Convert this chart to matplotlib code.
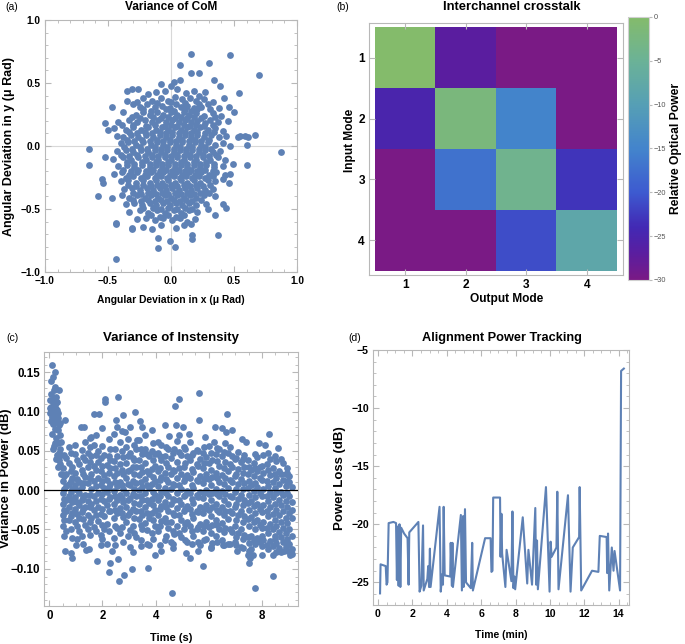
import numpy as np
import matplotlib
matplotlib.use("Agg")
import matplotlib.pyplot as plt
from matplotlib.colors import LinearSegmentedColormap

plt.rcParams['font.family'] = ['Liberation Sans', 'DejaVu Sans']

blue = '#5e81b5'
frame_col = '#b8b8b8'

# (a) centre of mass scatter, (x, y) in micro rad
com_points = [
    # outer points
    (0.16, 0.73), (0.47, 0.72), (0.70, 0.56), (0.30, 0.66), (0.07, 0.64),
    (0.22, 0.58), (0.16, 0.58), (0.02, 0.51), (0.07, 0.52), (-0.08, 0.49),
    (0.00, 0.48), (0.34, 0.52), (0.39, 0.48), (0.54, 0.42), (0.50, 0.27),
    (0.46, 0.31), (-0.35, 0.44), (-0.31, 0.45), (-0.26, 0.45), (-0.47, 0.31),
    (-0.52, 0.18), (-0.50, 0.13), (-0.43, 0.08), (-0.65, -0.02), (-0.65, -0.15),
    (-0.52, -0.09), (-0.58, -0.40), (-0.55, -0.26), (-0.54, -0.29), (-0.44, -0.90),
    (-0.44, -0.61), (-0.44, -0.62), (-0.47, -0.41), (-0.31, -0.66), (-0.10, -0.73),
    (-0.10, -0.81), (0.03, -0.80), (-0.01, -0.75), (0.17, -0.71), (0.17, -0.74),
    (0.37, -0.71), (0.35, -0.55), (0.44, -0.49), (0.41, -0.46), (0.87, -0.05),
    (0.67, 0.09), (0.59, 0.08), (0.61, 0.07), (0.53, 0.07), (0.55, 0.08),
    (0.60, 0.01), (0.60, -0.15), (0.49, -0.14), (0.47, -0.22), (0.46, -0.29),
    # core
    (-0.18, 0.41), (-0.12, 0.43), (-0.05, 0.44), (0.05, 0.45), (0.12, 0.42),
    (0.18, 0.44), (0.22, 0.40), (0.27, 0.43),
    (-0.35, 0.36), (-0.22, 0.38), (-0.15, 0.36), (-0.08, 0.38), (-0.02, 0.36),
    (0.03, 0.39), (0.09, 0.37), (0.15, 0.38), (0.20, 0.36), (0.26, 0.37),
    (0.33, 0.35), (0.42, 0.38),
    (-0.30, 0.33), (-0.25, 0.31), (-0.19, 0.33), (-0.13, 0.31), (-0.07, 0.32),
    (-0.01, 0.30), (0.04, 0.33), (0.08, 0.31), (0.13, 0.32), (0.18, 0.30),
    (0.24, 0.31), (0.29, 0.33), (0.38, 0.30),
    (-0.38, 0.27), (-0.28, 0.25), (-0.22, 0.27), (-0.17, 0.25), (-0.11, 0.27),
    (-0.06, 0.25), (0.00, 0.27), (0.05, 0.25), (0.10, 0.27), (0.14, 0.25),
    (0.20, 0.26), (0.26, 0.24), (0.33, 0.26), (0.40, 0.24),
    (-0.42, 0.19), (-0.33, 0.21), (-0.27, 0.19), (-0.21, 0.21), (-0.15, 0.19),
    (-0.10, 0.21), (-0.04, 0.19), (0.01, 0.21), (0.06, 0.19), (0.11, 0.21),
    (0.16, 0.19), (0.21, 0.20), (0.27, 0.18), (0.31, 0.21), (0.37, 0.19),
    (0.45, 0.20),
    (-0.45, 0.14), (-0.36, 0.13), (-0.30, 0.15), (-0.24, 0.13), (-0.18, 0.15),
    (-0.12, 0.13), (-0.07, 0.15), (-0.02, 0.13), (0.03, 0.15), (0.08, 0.13),
    (0.13, 0.15), (0.18, 0.13), (0.23, 0.15), (0.29, 0.13), (0.35, 0.14),
    (0.41, 0.12),
    (-0.38, 0.07), (-0.32, 0.09), (-0.26, 0.07), (-0.20, 0.09), (-0.14, 0.07),
    (-0.09, 0.09), (-0.04, 0.07), (0.01, 0.09), (0.06, 0.07), (0.11, 0.09),
    (0.16, 0.07), (0.21, 0.09), (0.26, 0.07), (0.32, 0.09), (0.38, 0.07),
    (0.44, 0.08),
    (-0.40, 0.02), (-0.34, 0.03), (-0.28, 0.01), (-0.22, 0.03), (-0.16, 0.01),
    (-0.11, 0.03), (-0.06, 0.01), (-0.01, 0.03), (0.04, 0.01), (0.09, 0.03),
    (0.14, 0.01), (0.19, 0.03), (0.24, 0.01), (0.29, 0.03), (0.35, 0.01),
    (0.41, 0.02), (0.47, 0.00),
    (-0.43, -0.04), (-0.36, -0.03), (-0.30, -0.05), (-0.24, -0.03), (-0.18, -0.05),
    (-0.13, -0.03), (-0.08, -0.05), (-0.03, -0.03), (0.02, -0.05), (0.07, -0.03),
    (0.12, -0.05), (0.17, -0.03), (0.22, -0.05), (0.27, -0.03), (0.33, -0.05),
    (0.39, -0.04),
    (-0.46, -0.10), (-0.38, -0.09), (-0.32, -0.11), (-0.26, -0.09), (-0.20, -0.11),
    (-0.15, -0.09), (-0.10, -0.11), (-0.05, -0.09), (0.00, -0.11), (0.05, -0.09),
    (0.10, -0.11), (0.15, -0.09), (0.20, -0.11), (0.25, -0.09), (0.31, -0.11),
    (0.37, -0.09), (0.43, -0.11),
    (-0.42, -0.16), (-0.35, -0.15), (-0.29, -0.17), (-0.23, -0.15), (-0.17, -0.17),
    (-0.12, -0.15), (-0.07, -0.17), (-0.02, -0.15), (0.03, -0.17), (0.08, -0.15),
    (0.13, -0.17), (0.18, -0.15), (0.23, -0.17), (0.28, -0.15), (0.34, -0.17),
    (0.41, -0.16),
    (-0.45, -0.22), (-0.39, -0.21), (-0.33, -0.23), (-0.27, -0.21), (-0.21, -0.23),
    (-0.16, -0.21), (-0.11, -0.23), (-0.06, -0.21), (-0.01, -0.23), (0.04, -0.21),
    (0.09, -0.23), (0.14, -0.21), (0.19, -0.23), (0.24, -0.21), (0.30, -0.23),
    (0.36, -0.21), (0.43, -0.23),
    (-0.40, -0.28), (-0.34, -0.27), (-0.28, -0.29), (-0.22, -0.27), (-0.17, -0.29),
    (-0.12, -0.27), (-0.07, -0.29), (-0.02, -0.27), (0.03, -0.29), (0.08, -0.27),
    (0.13, -0.29), (0.18, -0.27), (0.23, -0.29), (0.29, -0.27), (0.35, -0.28),
    (0.41, -0.26),
    (-0.37, -0.34), (-0.31, -0.33), (-0.25, -0.35), (-0.19, -0.33), (-0.14, -0.35),
    (-0.09, -0.33), (-0.04, -0.35), (0.01, -0.33), (0.06, -0.35), (0.11, -0.33),
    (0.16, -0.35), (0.21, -0.33), (0.27, -0.35), (0.33, -0.34),
    (-0.39, -0.39), (-0.33, -0.41), (-0.27, -0.39), (-0.21, -0.41), (-0.16, -0.39),
    (-0.10, -0.41), (-0.05, -0.39), (0.00, -0.41), (0.05, -0.39), (0.10, -0.41),
    (0.15, -0.39), (0.20, -0.41), (0.26, -0.39), (0.35, -0.40),
    (-0.36, -0.46), (-0.29, -0.45), (-0.23, -0.47), (-0.17, -0.45), (-0.12, -0.47),
    (-0.06, -0.45), (-0.01, -0.47), (0.04, -0.45), (0.09, -0.47), (0.14, -0.45),
    (0.20, -0.47), (0.28, -0.46),
    (-0.33, -0.52), (-0.25, -0.51), (-0.18, -0.53), (-0.11, -0.51), (-0.05, -0.53),
    (0.02, -0.51), (0.08, -0.53), (0.14, -0.51), (0.21, -0.52), (0.29, -0.50),
    (-0.27, -0.58), (-0.20, -0.57), (-0.13, -0.59), (-0.06, -0.57), (0.01, -0.59),
    (0.07, -0.57), (0.13, -0.60), (0.19, -0.58),
    (-0.31, -0.65), (-0.22, -0.64), (-0.15, -0.66), (-0.08, -0.63), (0.04, -0.65),
    (0.10, -0.63), (0.16, -0.62),
    # dense middle
    (-0.27, 0.35), (-0.11, 0.34), (0.00, 0.35), (0.11, 0.34), (0.22, 0.33),
    (-0.22, 0.29), (-0.16, 0.28), (-0.04, 0.29), (0.02, 0.28), (0.11, 0.29),
    (0.16, 0.28), (0.21, 0.29), (0.31, 0.29),
    (-0.31, 0.23), (-0.25, 0.22), (-0.14, 0.23), (-0.08, 0.22), (-0.02, 0.23),
    (0.03, 0.22), (0.08, 0.23), (0.13, 0.22), (0.18, 0.23), (0.24, 0.22), (0.35, 0.23),
    (-0.39, 0.17), (-0.30, 0.17), (-0.20, 0.16), (-0.13, 0.17), (-0.05, 0.16),
    (0.00, 0.17), (0.05, 0.16), (0.10, 0.17), (0.15, 0.16), (0.20, 0.17),
    (0.26, 0.16), (0.33, 0.17),
    (-0.33, 0.11), (-0.27, 0.10), (-0.21, 0.11), (-0.15, 0.10), (-0.09, 0.11),
    (-0.04, 0.10), (0.01, 0.11), (0.06, 0.10), (0.11, 0.11), (0.16, 0.10),
    (0.21, 0.11), (0.27, 0.10), (0.34, 0.11),
    (-0.35, 0.05), (-0.29, 0.04), (-0.23, 0.05), (-0.17, 0.04), (-0.11, 0.05),
    (-0.06, 0.04), (-0.01, 0.05), (0.04, 0.04), (0.09, 0.05), (0.14, 0.04),
    (0.19, 0.05), (0.24, 0.04), (0.30, 0.05),
    (-0.37, -0.01), (-0.31, -0.02), (-0.25, -0.01), (-0.19, -0.02), (-0.13, -0.01),
    (-0.08, -0.02), (-0.03, -0.01), (0.02, -0.02), (0.07, -0.01), (0.12, -0.02),
    (0.17, -0.01), (0.22, -0.02), (0.27, -0.01), (0.32, -0.02),
    (-0.40, -0.07), (-0.33, -0.08), (-0.27, -0.07), (-0.21, -0.08), (-0.15, -0.07),
    (-0.10, -0.08), (-0.05, -0.07), (0.00, -0.08), (0.05, -0.07), (0.10, -0.08),
    (0.15, -0.07), (0.20, -0.08), (0.25, -0.07), (0.30, -0.08), (0.36, -0.07),
    (-0.35, -0.13), (-0.29, -0.14), (-0.23, -0.13), (-0.17, -0.14), (-0.12, -0.13),
    (-0.07, -0.14), (-0.02, -0.13), (0.03, -0.14), (0.08, -0.13), (0.13, -0.14),
    (0.18, -0.13), (0.23, -0.14), (0.28, -0.13), (0.34, -0.14),
    (-0.38, -0.19), (-0.32, -0.20), (-0.26, -0.19), (-0.20, -0.20), (-0.14, -0.19),
    (-0.09, -0.20), (-0.04, -0.19), (0.01, -0.20), (0.06, -0.19), (0.11, -0.20),
    (0.16, -0.19), (0.21, -0.20), (0.27, -0.19), (0.33, -0.20),
    (-0.36, -0.25), (-0.30, -0.24), (-0.24, -0.25), (-0.19, -0.24), (-0.13, -0.25),
    (-0.08, -0.24), (-0.03, -0.25), (0.02, -0.24), (0.07, -0.25), (0.12, -0.24),
    (0.17, -0.25), (0.22, -0.24), (0.27, -0.25), (0.33, -0.24),
    (-0.34, -0.31), (-0.28, -0.32), (-0.22, -0.31), (-0.16, -0.32), (-0.11, -0.31),
    (-0.05, -0.32), (0.00, -0.31), (0.05, -0.32), (0.10, -0.31), (0.15, -0.32),
    (0.20, -0.31), (0.25, -0.32), (0.31, -0.31),
    (-0.30, -0.37), (-0.24, -0.38), (-0.18, -0.37), (-0.12, -0.38), (-0.07, -0.37),
    (-0.02, -0.38), (0.03, -0.37), (0.08, -0.38), (0.13, -0.37), (0.18, -0.38),
    (0.23, -0.37), (0.30, -0.37),
    (-0.30, -0.43), (-0.24, -0.44), (-0.18, -0.43), (-0.13, -0.44), (-0.08, -0.43),
    (-0.03, -0.44), (0.02, -0.43), (0.07, -0.44), (0.12, -0.43), (0.17, -0.44),
    (0.24, -0.43),
    (-0.22, -0.49), (-0.14, -0.49), (-0.08, -0.50), (-0.02, -0.49), (0.05, -0.50),
    (0.11, -0.49), (0.17, -0.50),
    (-0.16, -0.55), (-0.09, -0.56), (-0.02, -0.55), (0.04, -0.56), (0.10, -0.55),
]

# (b) crosstalk matrix, rows = input mode, cols = output mode (dB)
modes = [1, 2, 3, 4]
crosstalk = [
    [0.0, -27.0, -30.0, -30.0],
    [-25.0, -2.0, -15.0, -30.0],
    [-30.0, -17.0, -4.0, -23.0],
    [-30.0, -30.0, -21.0, -8.0],
]

# (c) intensity variance: start-up cluster and outliers as (t, dB)
int_points = [
    (0.02, 0.115), (0.04, 0.098), (0.05, 0.139), (0.06, 0.088), (0.08, 0.106),
    (0.09, 0.072), (0.10, 0.093), (0.11, 0.159), (0.12, 0.112), (0.13, 0.084),
    (0.15, 0.144), (0.15, 0.101), (0.17, 0.118), (0.18, 0.090), (0.19, 0.056),
    (0.20, 0.108), (0.21, 0.078), (0.22, 0.131), (0.23, 0.150), (0.24, 0.096),
    (0.25, 0.104), (0.26, 0.066), (0.27, 0.119), (0.28, 0.087), (0.29, 0.045),
    (0.30, 0.102), (0.31, 0.030), (0.32, 0.092), (0.33, 0.060), (0.34, 0.077),
    (0.35, 0.128), (0.36, 0.048), (0.37, 0.083), (0.38, 0.038), (0.40, 0.070),
    (0.41, 0.052), (0.42, 0.086), (0.43, 0.020), (0.44, 0.062), (0.12, 0.052),
    (0.07, 0.122), (0.03, 0.105), (0.16, 0.098), (0.28, 0.112), (0.33, 0.098),
    (0.21, 0.060), (0.18, 0.128), (0.39, 0.033), (0.25, 0.040), (0.45, 0.045),
    (0.60, 0.090), (1.20, 0.080), (1.68, 0.097), (1.86, 0.097), (2.10, 0.116),
    (2.10, 0.112), (2.57, 0.119), (2.76, 0.096), (3.23, 0.099), (2.50, 0.090),
    (2.53, 0.081), (3.41, 0.088), (3.47, 0.081), (4.73, 0.107), (4.88, 0.116),
    (4.75, 0.083), (5.62, 0.124), (5.62, 0.089), (6.23, 0.080), (6.49, 0.079),
    (6.70, 0.097), (6.86, 0.077), (8.28, 0.072), (5.02, 0.080), (4.35, 0.083),
    (3.85, 0.077), (3.04, 0.080),
    (4.60, -0.131), (7.74, -0.125), (2.62, -0.116), (2.81, -0.108), (2.26, -0.104),
    (3.13, -0.100), (8.42, -0.109), (3.72, -0.099), (5.77, -0.096), (7.50, -0.093),
    (7.55, -0.087), (7.49, -0.082), (1.81, -0.090), (2.28, -0.093), (0.60, -0.077),
    (0.83, -0.080), (0.84, -0.087), (1.38, -0.076), (3.98, -0.083), (5.29, -0.086),
    (3.15, -0.079), (2.60, -0.088), (9.14, -0.081), (8.99, -0.078), (8.43, -0.082),
    (0.95, 0.058), (1.30, 0.081), (1.55, 0.066), (2.00, 0.079), (2.45, 0.071),
    (2.85, 0.074), (3.30, 0.064), (3.60, 0.070), (4.10, 0.061), (4.50, 0.069),
    (5.25, 0.072), (5.85, 0.068), (6.20, 0.062), (6.65, 0.074), (7.25, 0.065),
    (7.42, 0.062), (7.90, 0.060), (8.10, 0.057), (8.60, 0.054), (8.95, 0.022),
    (1.00, -0.070), (1.50, -0.075), (1.95, -0.070), (2.35, -0.078), (3.05, -0.072),
    (3.45, -0.071), (4.20, -0.077), (4.65, -0.074), (5.15, -0.080), (5.60, -0.077),
    (6.10, -0.074), (6.55, -0.070), (7.05, -0.078), (7.65, -0.082), (8.00, -0.083),
    (8.55, -0.079), (8.85, -0.077), (9.05, -0.083),
]

# (c) main band, one time column with its samples
int_columns = [
    (0.50, [0.012, -0.004, -0.018, -0.031, 0.028, -0.045]),
    (0.62, [0.005, -0.012, -0.026, 0.021, 0.041, -0.052]),
    (0.74, [0.008, -0.007, -0.022, -0.038, 0.035, 0.055]),
    (0.86, [0.016, 0.002, -0.015, -0.029, -0.061, 0.030]),
    (0.98, [0.022, 0.007, -0.009, -0.024, -0.041, 0.046]),
    (1.10, [0.033, 0.011, -0.003, -0.019, -0.035, -0.052]),
    (1.22, [0.051, 0.026, 0.004, -0.012, -0.028, -0.058]),
    (1.34, [0.038, 0.017, -0.006, -0.021, -0.044, 0.062]),
    (1.46, [0.029, 0.009, -0.014, -0.031, -0.049, 0.047]),
    (1.58, [0.044, 0.021, 0.001, -0.017, -0.036, 0.068]),
    (1.70, [0.057, 0.031, 0.012, -0.008, -0.025, -0.047]),
    (1.82, [0.036, 0.015, -0.004, -0.022, -0.039, 0.050]),
    (1.94, [0.041, 0.024, 0.006, -0.011, -0.030, -0.057]),
    (2.06, [0.045, 0.019, 0.003, -0.014, -0.033, -0.050]),
    (2.18, [0.032, 0.013, -0.002, -0.019, -0.043, -0.068]),
    (2.30, [0.052, 0.028, 0.008, -0.009, -0.026, 0.039]),
    (2.42, [0.037, 0.018, -0.001, -0.017, -0.036, -0.061]),
    (2.54, [0.044, 0.022, 0.005, -0.012, -0.029, -0.048]),
    (2.66, [0.061, 0.033, 0.011, -0.006, -0.023, -0.054]),
    (2.78, [0.042, 0.020, 0.002, -0.015, -0.034, -0.066]),
    (2.90, [0.035, 0.016, -0.003, -0.021, -0.040, 0.055]),
    (3.02, [0.048, 0.026, 0.007, -0.010, -0.028, -0.051]),
    (3.14, [0.030, 0.012, -0.005, -0.024, -0.045, 0.041]),
    (3.26, [0.053, 0.029, 0.009, -0.008, -0.027, -0.060]),
    (3.38, [0.039, 0.019, 0.000, -0.018, -0.037, 0.064]),
    (3.50, [0.046, 0.023, 0.004, -0.013, -0.031, -0.049]),
    (3.62, [0.034, 0.014, -0.004, -0.022, -0.042, 0.052]),
    (3.74, [0.043, 0.021, 0.003, -0.016, -0.035, -0.070]),
    (3.86, [0.050, 0.027, 0.008, -0.011, -0.029, -0.055]),
    (3.98, [0.031, 0.012, -0.006, -0.025, -0.046, 0.046]),
    (4.10, [0.047, 0.024, 0.005, -0.012, -0.032, -0.052]),
    (4.22, [0.038, 0.017, -0.002, -0.020, -0.039, 0.058]),
    (4.34, [0.044, 0.022, 0.003, -0.015, -0.036, -0.063]),
    (4.46, [0.029, 0.011, -0.007, -0.026, -0.048, 0.052]),
    (4.58, [0.041, 0.020, 0.001, -0.018, -0.040, -0.066]),
    (4.70, [0.052, 0.025, 0.006, -0.013, -0.031, -0.056]),
    (4.82, [0.036, 0.015, -0.004, -0.023, -0.045, 0.063]),
    (4.94, [0.045, 0.021, 0.002, -0.017, -0.038, -0.059]),
    (5.06, [0.030, 0.012, -0.008, -0.027, -0.049, 0.055]),
    (5.18, [0.043, 0.019, -0.001, -0.020, -0.041, -0.066]),
    (5.30, [0.038, 0.016, -0.003, -0.024, -0.046, 0.062]),
    (5.42, [0.047, 0.023, 0.003, -0.016, -0.035, -0.058]),
    (5.54, [0.033, 0.013, -0.006, -0.026, -0.050, 0.051]),
    (5.66, [0.040, 0.018, -0.002, -0.021, -0.043, -0.070]),
    (5.78, [0.028, 0.009, -0.010, -0.029, -0.052, 0.047]),
    (5.90, [0.042, 0.020, 0.000, -0.019, -0.040, -0.062]),
    (6.02, [0.035, 0.014, -0.005, -0.025, -0.047, 0.056]),
    (6.14, [0.039, 0.017, -0.003, -0.022, -0.044, -0.067]),
    (6.26, [0.046, 0.022, 0.001, -0.018, -0.038, -0.058]),
    (6.38, [0.031, 0.011, -0.008, -0.028, -0.050, 0.052]),
    (6.50, [0.043, 0.019, -0.001, -0.021, -0.042, -0.064]),
    (6.62, [0.036, 0.015, -0.005, -0.026, -0.048, 0.060]),
    (6.74, [0.048, 0.024, 0.003, -0.017, -0.037, -0.069]),
    (6.86, [0.030, 0.010, -0.009, -0.029, -0.053, 0.044]),
    (6.98, [0.040, 0.018, -0.002, -0.022, -0.045, -0.066]),
    (7.10, [0.027, 0.008, -0.011, -0.031, -0.055, 0.049]),
    (7.22, [0.036, 0.014, -0.006, -0.027, -0.050, -0.072]),
    (7.34, [0.029, 0.009, -0.012, -0.033, -0.057, 0.045]),
    (7.46, [0.021, 0.003, -0.016, -0.037, -0.060, 0.038]),
    (7.58, [0.026, 0.006, -0.014, -0.034, -0.058, -0.075]),
    (7.70, [0.018, -0.001, -0.020, -0.040, -0.063, 0.035]),
    (7.82, [0.024, 0.004, -0.017, -0.038, -0.061, 0.042]),
    (7.94, [0.015, -0.004, -0.024, -0.044, -0.066, 0.030]),
    (8.06, [0.022, 0.002, -0.019, -0.040, -0.064, 0.045]),
    (8.18, [0.012, -0.007, -0.027, -0.048, -0.070, 0.033]),
    (8.30, [0.019, -0.002, -0.022, -0.043, -0.065, 0.040]),
    (8.42, [0.010, -0.009, -0.030, -0.050, -0.071, 0.028]),
    (8.54, [0.016, -0.004, -0.025, -0.046, -0.067, 0.037]),
    (8.66, [0.008, -0.012, -0.032, -0.053, -0.074, 0.025]),
    (8.78, [0.013, -0.006, -0.027, -0.048, -0.066, 0.034]),
    (8.90, [0.005, -0.014, -0.035, -0.055, -0.072, 0.020]),
    (9.02, [0.011, -0.008, -0.029, -0.050, -0.069, 0.018]),
    (9.14, [0.004, -0.015, -0.036, -0.058, -0.075, -0.025]),
    (0.56, [0.018, 0.001, -0.011, -0.025, -0.038, 0.045, -0.058]),
    (0.80, [0.025, 0.012, -0.002, -0.013, -0.033, 0.048, -0.050]),
    (1.04, [0.014, 0.000, -0.015, -0.030, -0.046, 0.039, -0.062]),
    (1.28, [0.021, 0.009, -0.009, -0.024, -0.037, 0.042, -0.069]),
    (1.52, [0.036, 0.016, -0.006, -0.022, -0.041, 0.055, -0.057]),
    (1.76, [0.026, 0.005, -0.014, -0.031, -0.052, 0.045, 0.070]),
    (2.00, [0.031, 0.012, -0.005, -0.024, -0.044, 0.056, -0.062]),
    (2.24, [0.022, 0.004, -0.011, -0.027, -0.052, 0.043, 0.065]),
    (2.48, [0.028, 0.010, -0.008, -0.025, -0.045, 0.052, -0.070]),
    (2.72, [0.026, 0.006, -0.010, -0.029, -0.047, 0.050, 0.075]),
    (2.96, [0.024, 0.008, -0.013, -0.031, -0.058, 0.044, 0.065]),
    (3.20, [0.038, 0.020, 0.002, -0.016, -0.036, -0.054, 0.057]),
    (3.44, [0.030, 0.011, -0.008, -0.026, -0.044, 0.052, -0.063]),
    (3.68, [0.024, 0.006, -0.012, -0.029, -0.051, 0.046, -0.068]),
    (3.92, [0.039, 0.017, -0.002, -0.019, -0.038, 0.060, -0.062]),
    (4.16, [0.028, 0.013, -0.007, -0.024, -0.045, 0.044, -0.070]),
    (4.40, [0.035, 0.014, -0.004, -0.022, -0.041, 0.055, -0.058]),
    (4.64, [0.026, 0.008, -0.011, -0.029, -0.052, 0.047, -0.069]),
    (4.88, [0.028, 0.006, -0.013, -0.031, -0.054, 0.049, 0.070]),
    (5.12, [0.034, 0.015, -0.006, -0.024, -0.043, 0.053, -0.064]),
    (5.36, [0.027, 0.007, -0.011, -0.030, -0.052, 0.045, -0.068]),
    (5.60, [0.031, 0.012, -0.009, -0.028, -0.047, 0.050, -0.066]),
    (5.84, [0.034, 0.014, -0.004, -0.024, -0.045, 0.055, -0.064]),
    (6.08, [0.026, 0.006, -0.013, -0.033, -0.055, 0.047, -0.072]),
    (6.32, [0.037, 0.016, -0.005, -0.025, -0.044, 0.054, -0.066]),
    (6.56, [0.028, 0.008, -0.012, -0.031, -0.053, 0.049, -0.070]),
    (6.80, [0.033, 0.013, -0.008, -0.027, -0.049, 0.055, -0.068]),
    (7.04, [0.020, 0.002, -0.018, -0.038, -0.060, 0.041, -0.070]),
    (7.28, [0.022, 0.002, -0.019, -0.040, -0.062, 0.040, -0.074]),
    (7.52, [0.012, -0.006, -0.025, -0.045, -0.067, 0.030, -0.078]),
    (7.76, [0.009, -0.009, -0.029, -0.049, -0.068, 0.028, 0.046]),
    (8.00, [0.013, -0.007, -0.028, -0.048, -0.058, 0.031, -0.071]),
    (8.24, [0.005, -0.014, -0.033, -0.054, -0.075, 0.026, 0.047]),
    (8.48, [0.003, -0.017, -0.038, -0.058, -0.062, 0.021, 0.043]),
    (8.72, [-0.002, -0.019, -0.040, -0.060, -0.079, 0.020, 0.040]),
    (8.96, [-0.004, -0.022, -0.042, -0.062, -0.066, 0.012, 0.028]),
]

# (d) alignment power tracking
track_t = [0.12, 0.15, 0.45, 0.50, 0.55, 0.62, 0.90, 1.05, 1.10, 1.14, 1.20, 1.25,
           1.30, 1.35, 1.52, 1.72, 1.78, 1.82, 2.35, 2.42, 2.52, 2.62, 2.66, 2.87,
           2.92, 2.97, 3.02, 3.06, 3.58, 3.65, 3.74, 3.78, 3.82, 3.88, 4.20, 4.23,
           4.30, 4.33, 4.36, 4.82, 4.88, 4.95, 4.98, 5.06, 5.12, 5.40, 5.48, 5.52,
           6.23, 6.55, 6.60, 6.66, 6.70, 7.10, 7.13, 7.18, 7.22, 7.41, 7.48, 7.76,
           7.82, 7.88, 7.93, 7.98, 8.42, 8.68, 8.75, 8.96, 9.15, 9.20, 9.25, 9.30,
           9.77, 9.98, 10.04, 10.10, 10.38, 10.43, 10.50, 11.05, 11.20, 11.33, 11.70,
           11.73, 11.82, 12.45, 12.82, 12.90, 13.30, 13.33, 13.38, 13.45, 13.60,
           13.70, 13.76, 14.08, 14.14, 14.30]
track_db = [-25.95, -23.45, -23.6, -25.2, -25.0, -19.9, -19.8, -19.9, -24.8, -20.2,
            -25.3, -20.0, -25.4, -20.3, -20.8, -21.2, -25.2, -20.7, -19.8, -25.8,
            -25.3, -20.1, -25.7, -24.7, -23.6, -25.4, -22.1, -25.4, -18.5, -25.8,
            -24.3, -25.2, -18.5, -24.4, -24.5, -21.6, -25.3, -21.6, -25.4, -19.2,
            -25.7, -19.3, -25.4, -18.7, -25.0, -25.5, -21.6, -25.7, -21.2, -21.2,
            -24.1, -24.0, -17.7, -17.7, -22.8, -19.1, -22.5, -25.4, -22.2, -24.9,
            -18.9, -25.5, -24.5, -25.6, -19.4, -25.1, -22.2, -25.2, -18.6, -25.2,
            -21.4, -25.6, -16.8, -25.8, -21.5, -22.8, -22.0, -17.2, -25.6, -17.5,
            -25.8, -22.0, -21.1, -16.8, -25.7, -24.0, -24.1, -21.0, -21.1, -24.2,
            -20.8, -25.7, -22.0, -24.0, -22.3, -25.7, -6.8, -6.6]

com_x, com_y = np.array(com_points).T
int_t = [p[0] for p in int_points] + [t for t, ys in int_columns for _ in ys]
int_v = [p[1] for p in int_points] + [y for t, ys in int_columns for y in ys]


def mma_frame(ax, labelsize=7.3):
    for s in ax.spines.values():
        s.set_color(frame_col)
        s.set_linewidth(0.8)
    ax.tick_params(which='both', direction='in', top=True, right=True, color=frame_col,
                   labelsize=labelsize, pad=3)
    ax.tick_params(which='major', length=4)
    ax.tick_params(which='minor', length=2)
    for lab in ax.get_xticklabels() + ax.get_yticklabels():
        lab.set_fontweight('bold')


fig = plt.figure(figsize=(6.85, 6.44), dpi=100)
W, H = 685, 644


def px_axes(x0, y0, x1, y1):
    return fig.add_axes([x0 / W, 1 - y1 / H, (x1 - x0) / W, (y1 - y0) / H])


def px_text(x, y, s, **kw):
    fig.text(x / W, 1 - y / H, s, ha='center', va='center', **kw)


# (a)
ax = px_axes(45, 20, 297, 272)
ax.axhline(0, color='#d8d8d8', lw=0.8, zorder=0)
ax.axvline(0, color='#d8d8d8', lw=0.8, zorder=0)
ax.scatter(com_x, com_y, s=24, color=blue, linewidths=0)
ax.set_xlim(-1, 1)
ax.set_ylim(-1, 1)
ax.set_xticks([-1, -0.5, 0, 0.5, 1])
ax.set_yticks([-1, -0.5, 0, 0.5, 1])
ax.set_xticks(np.arange(-1, 1.01, 0.1), minor=True)
ax.set_yticks(np.arange(-1, 1.01, 0.1), minor=True)
ax.set_xticklabels(['\u22121.0', '\u22120.5', '0.0', '0.5', '1.0'])
ax.set_yticklabels(['\u22121.0', '\u22120.5', '0.0', '0.5', '1.0'])
mma_frame(ax, labelsize=7.3)
px_text(171, 300, 'Angular Deviation in x (\u03bc Rad)', fontsize=7.4, fontweight='bold')
px_text(9, 146, 'Angular Deviation in y (\u03bc Rad)', fontsize=9, fontweight='bold', rotation=90)
px_text(171, 7, 'Variance of CoM', fontsize=8.6, fontweight='bold')
px_text(12, 7, '(a)', fontsize=7.5)

# (b)
cmap = LinearSegmentedColormap.from_list('xt', [
    (0.0, '#7a1a85'), (0.1, '#5a1ea0'), (0.2, '#4229b4'), (0.333, '#3d5ad0'),
    (0.5, '#4384cc'), (0.667, '#569fb5'), (0.833, '#6bb297'), (1.0, '#84bb6b')])
ax = px_axes(369, 23, 623, 275)
im = ax.imshow(np.array(crosstalk), cmap=cmap, vmin=-30, vmax=0, aspect='auto',
               extent=(0.5, 4.5, 4.5, 0.5))
ax.set_xlim(0.4, 4.6)
ax.set_ylim(4.57, 0.43)
ax.set_xticks(modes)
ax.set_yticks(modes)
mma_frame(ax, labelsize=8.6)
px_text(507, 299, 'Output Mode', fontsize=8.6, fontweight='bold')
px_text(350, 140, 'Input Mode', fontsize=8.6, fontweight='bold', rotation=90)
px_text(512, 7, 'Interchannel crosstalk', fontsize=9.4, fontweight='bold')
px_text(343, 7, '(b)', fontsize=7.5)

cax = px_axes(628, 17, 649, 280)
cb = fig.colorbar(im, cax=cax, ticks=[0, -5, -10, -15, -20, -25, -30])
cb.outline.set_edgecolor('#d0d0d0')
cb.ax.tick_params(labelsize=5.3, labelcolor='#555555', color='#bbbbbb', length=2, pad=1.5)
px_text(676, 148, 'Relative Optical Power', fontsize=8.7, fontweight='bold', rotation=90)

# (c)
ax = px_axes(44, 352, 298, 606)
ax.axhline(0, color='black', lw=0.9, zorder=3)
ax.scatter(int_t, int_v, s=24, color=blue, linewidths=0, zorder=2)
ax.set_xlim(-0.2, 9.36)
ax.set_ylim(-0.1475, 0.176)
ax.set_xticks([0, 2, 4, 6, 8])
ax.set_xticks(np.arange(0, 9.3, 0.5), minor=True)
ax.set_yticks([-0.10, -0.05, 0, 0.05, 0.10, 0.15])
ax.set_yticks(np.arange(-0.14, 0.176, 0.01), minor=True)
ax.set_yticklabels(['\u22120.10', '\u22120.05', '0.00', '0.05', '0.10', '0.15'])
mma_frame(ax, labelsize=8.3)
px_text(171, 638, 'Time (s)', fontsize=8, fontweight='bold')
px_text(6, 478, 'Variance in Power (dB)', fontsize=9.3, fontweight='bold', rotation=90)
px_text(171, 338, 'Variance of Instensity', fontsize=9.5, fontweight='bold')
px_text(12, 338, '(c)', fontsize=7.5)

# (d)
ax = px_axes(373, 350, 629, 605)
ax.plot(track_t, track_db, color=blue, lw=1.5)
ax.set_xlim(-0.29, 14.6)
ax.set_ylim(-26.95, -5)
ax.set_xticks([0, 2, 4, 6, 8, 10, 12, 14])
ax.set_xticks(np.arange(0, 14.6, 0.5), minor=True)
ax.set_yticks([-25, -20, -15, -10, -5])
ax.set_yticks(np.arange(-26, -5, 1), minor=True)
ax.set_yticklabels(['\u221225', '\u221220', '\u221215', '\u221210', '\u22125'])
mma_frame(ax, labelsize=7.6)
px_text(501, 635, 'Time (min)', fontsize=7.5, fontweight='bold')
px_text(340, 478, 'Power Loss (dB)', fontsize=9.5, fontweight='bold', rotation=90)
px_text(502, 338, 'Alignment Power Tracking', fontsize=9.2, fontweight='bold')
px_text(355, 338, '(d)', fontsize=7.5)

fig.savefig('out.png', dpi=100)
